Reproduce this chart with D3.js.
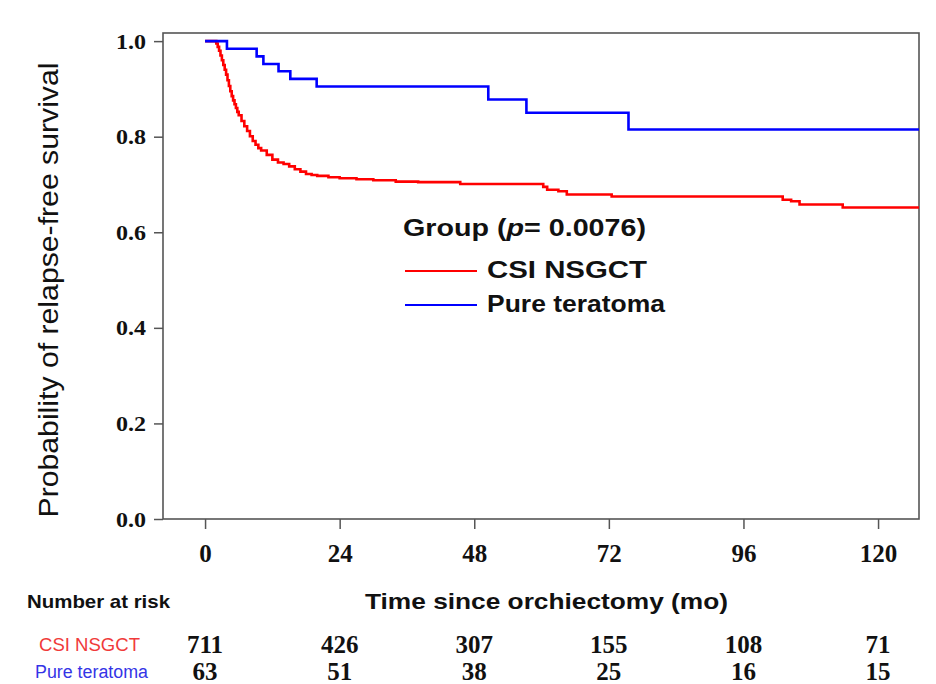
<!DOCTYPE html>
<html>
<head>
<meta charset="utf-8">
<script src="https://cdn.jsdelivr.net/npm/d3@7"></script>
<style>
    body { margin: 0; background: #fff; }
    svg { display: block; }
    .tick-label { font-family: "Liberation Serif", "Times New Roman", serif; font-weight: bold; fill: #111; }
    .sans { font-family: "Liberation Sans", Arial, sans-serif; fill: #111; }
</style>
</head>
<body>
<svg id="chart"></svg>
<script>
// Kaplan-Meier curves: [month, survival]
const csiTimes = [0, 2, 2.25, 2.5, 2.75, 3, 3.25, 3.5, 3.75, 4, 4.25, 4.5, 4.75, 5, 5.25, 5.5, 5.75, 6, 6.5, 7, 7.5, 8, 8.5, 9, 9.5, 10, 11, 12, 13, 14, 15, 16, 17, 18, 19, 20, 22, 24, 27, 30, 34, 38, 45.5, 60.3, 61, 63, 64.5, 72.5, 103, 104.5, 106, 113.7, 127.3];
const csiSurv  = [1.0, 0.995, 0.988, 0.98, 0.97, 0.96, 0.95, 0.94, 0.93, 0.918, 0.906, 0.895, 0.885, 0.876, 0.868, 0.86, 0.852, 0.845, 0.833, 0.822, 0.812, 0.801, 0.791, 0.783, 0.776, 0.771, 0.762, 0.752, 0.746, 0.743, 0.738, 0.732, 0.727, 0.722, 0.72, 0.718, 0.715, 0.713, 0.711, 0.709, 0.706, 0.705, 0.701, 0.695, 0.689, 0.686, 0.679, 0.675, 0.668, 0.665, 0.658, 0.652, 0.652];

const terTimes = [0, 3.9, 9.2, 10.4, 13.1, 15.2, 19.9, 50.5, 57.3, 75.5, 127.3];
const terSurv  = [1.0, 0.984, 0.968, 0.952, 0.937, 0.921, 0.905, 0.878, 0.85, 0.815, 0.815];

const xTicks = [0, 24, 48, 72, 96, 120];
const yTicks = [0, 0.2, 0.4, 0.6, 0.8, 1.0];

const riskLabels = ['CSI NSGCT', 'Pure teratoma'];
const riskCsi = [711, 426, 307, 155, 108, 71];
const riskTer = [63, 51, 38, 25, 16, 15];

const seriesNames = ['CSI NSGCT', 'Pure teratoma'];
const seriesColors = ['#ff0000', '#0000ff'];
const labelColors = ['#f03a3a', '#3434e6'];

const width = 936;
const height = 684;

const svg = d3.select('#chart').attr('width', width).attr('height', height);

// plot box spans a bit past the data range on both sides
const x = d3.scaleLinear().domain([-7.5, 127.3]).range([163, 919]);
const y = d3.scaleLinear().domain([0, 1.017]).range([519, 33]);

// stretch a text node to a measured width
function fit(sel, w) {
    sel.attr('textLength', w).attr('lengthAdjust', 'spacingAndGlyphs');
    return sel;
}

// axes
const yAxis = svg.append('g')
    .attr('transform', `translate(${x.range()[0]},0)`)
    .call(d3.axisLeft(y).tickValues(yTicks).tickFormat(d3.format('.1f')).tickSize(9).tickPadding(8).tickSizeOuter(0));
yAxis.select('.domain').remove();
yAxis.selectAll('line').attr('stroke', '#555').attr('stroke-width', 1.5);
yAxis.selectAll('text').attr('class', 'tick-label').attr('font-size', 21).attr('dy', '0.34em')
    .call(fit, 30);

const xAxis = svg.append('g')
    .attr('transform', `translate(0,${y(0)})`)
    .call(d3.axisBottom(x).tickValues(xTicks).tickSize(10).tickPadding(15).tickSizeOuter(0));
xAxis.select('.domain').remove();
xAxis.selectAll('line').attr('stroke', '#555').attr('stroke-width', 1.5);
xAxis.selectAll('text').attr('class', 'tick-label').attr('font-size', 25);

// frame
svg.append('rect')
    .attr('x', x.range()[0]).attr('y', y.range()[1])
    .attr('width', x.range()[1] - x.range()[0])
    .attr('height', y.range()[0] - y.range()[1])
    .attr('fill', 'none').attr('stroke', '#555').attr('stroke-width', 1.6);

svg.append('clipPath').attr('id', 'clip').append('rect')
    .attr('x', x.range()[0]).attr('y', y.range()[1])
    .attr('width', x.range()[1] - x.range()[0])
    .attr('height', y.range()[0] - y.range()[1]);

// survival curves
const line = d3.line().curve(d3.curveStepAfter).x(d => x(d[0])).y(d => y(d[1]));
const curves = [
    d3.zip(csiTimes, csiSurv),
    d3.zip(terTimes, terSurv)
];
svg.append('g').attr('clip-path', 'url(#clip)')
    .selectAll('path')
    .data(curves)
    .enter()
    .append('path')
    .attr('d', line)
    .attr('fill', 'none')
    .attr('stroke', (d, i) => seriesColors[i])
    .attr('stroke-width', 2.6);

// legend
const title = svg.append('text').attr('class', 'sans').attr('x', 403).attr('y', 236)
    .attr('font-size', 24).attr('font-weight', 'bold');
title.append('tspan').text('Group (');
title.append('tspan').attr('font-style', 'italic').text('p');
title.append('tspan').text('= 0.0076)');
fit(title, 243);

const legendY = [271, 305];
seriesNames.forEach((name, i) => {
    svg.append('line')
        .attr('x1', 405).attr('x2', 477)
        .attr('y1', legendY[i]).attr('y2', legendY[i])
        .attr('stroke', seriesColors[i]).attr('stroke-width', 2.2);
    svg.append('text').attr('class', 'sans')
        .attr('x', 487).attr('y', legendY[i] + 7)
        .attr('font-size', 24).attr('font-weight', 'bold')
        .text(name)
        .call(fit, i === 0 ? 160 : 178);
});

// axis titles
svg.append('text').attr('class', 'sans')
    .attr('transform', 'translate(58,290) rotate(-90)')
    .attr('text-anchor', 'middle')
    .attr('font-size', 28)
    .text('Probability of relapse-free survival')
    .call(fit, 455);

svg.append('text').attr('class', 'sans')
    .attr('x', 365).attr('y', 609)
    .attr('font-size', 22).attr('font-weight', 'bold')
    .text('Time since orchiectomy (mo)')
    .call(fit, 363);

// number at risk table
svg.append('text').attr('class', 'sans')
    .attr('x', 27).attr('y', 608)
    .attr('font-size', 19).attr('font-weight', 'bold')
    .text('Number at risk')
    .call(fit, 143);

const rowY = [653, 680];
const rowLabelX = [39, 35];
const rowLabelW = [101, 113];
[riskCsi, riskTer].forEach((row, i) => {
    svg.append('text').attr('class', 'sans')
        .attr('x', rowLabelX[i]).attr('y', rowY[i] - 2)
        .attr('font-size', 18)
        .style('fill', labelColors[i])
        .text(riskLabels[i])
        .call(fit, rowLabelW[i]);

    svg.append('g').selectAll('text')
        .data(row)
        .enter()
        .append('text')
        .attr('class', 'tick-label')
        .attr('x', (d, j) => x(xTicks[j]))
        .attr('y', rowY[i])
        .attr('text-anchor', 'middle')
        .attr('font-size', 25)
        .text(d => d);
});
</script>
</body>
</html>
